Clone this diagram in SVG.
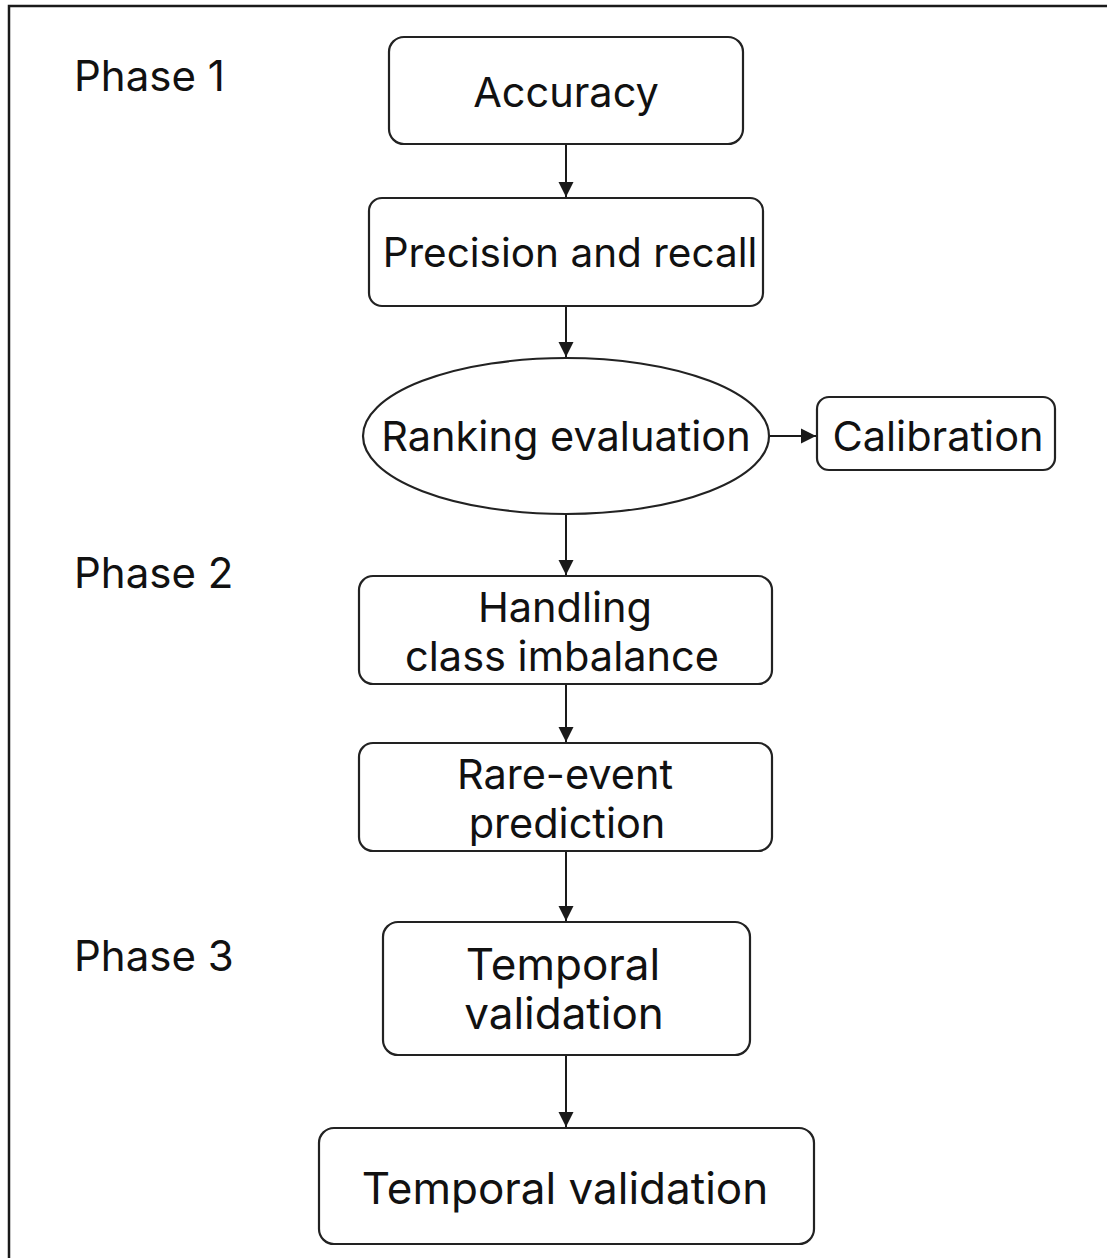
<svg xmlns="http://www.w3.org/2000/svg" width="1107" height="1258" viewBox="0 0 1107 1258">
  <style>
    .box { fill: #ffffff; stroke: #222222; stroke-width: 2.2; }
    .lbl { font-family: Inter, "Liberation Sans", sans-serif; font-size: 41.5px; fill: #111111; text-anchor: middle; dominant-baseline: central; }
    .big { font-size: 44px; }
    .phase { font-family: Inter, "Liberation Sans", sans-serif; font-size: 42px; fill: #111111; dominant-baseline: central; }
    .edge { stroke: #1a1a1a; stroke-width: 2; fill: none; marker-end: url(#arrow); }
  </style>
  <defs>
    <marker id="arrow" viewBox="0 0 10 10" refX="10" refY="5" markerWidth="15" markerHeight="16" markerUnits="userSpaceOnUse" orient="auto">
      <path d="M0,0 L10,5 L0,10 z" fill="#1a1a1a"/>
    </marker>
  </defs>
  <rect width="1107" height="1258" fill="#ffffff"/>
  <!-- frame: top and left edges only -->
  <path d="M9,1258 V6 H1107" fill="none" stroke="#1a1a1a" stroke-width="2.5"/>

  <g id="phase-labels">
    <text class="phase" x="74" y="75">Phase 1</text>
    <text class="phase" x="74" y="572">Phase 2</text>
    <text class="phase" x="74" y="955">Phase 3</text>
  </g>

  <g id="connectors">
    <line class="edge" x1="566" y1="145" x2="566" y2="197"/>
    <line class="edge" x1="566" y1="307" x2="566" y2="357"/>
    <line class="edge" x1="769" y1="436" x2="816" y2="436"/>
    <line class="edge" x1="566" y1="515" x2="566" y2="575"/>
    <line class="edge" x1="566" y1="685" x2="566" y2="742"/>
    <line class="edge" x1="566" y1="852" x2="566" y2="921"/>
    <line class="edge" x1="566" y1="1056" x2="566" y2="1127"/>
  </g>

  <g id="accuracy">
    <rect class="box" x="389" y="37" width="354" height="107" rx="15"/>
    <text class="lbl" x="566" y="92">Accuracy</text>
  </g>
  <g id="precision-recall">
    <rect class="box" x="369" y="198" width="394" height="108" rx="13"/>
    <text class="lbl" x="570" y="252" style="font-size:40.5px">Precision and recall</text>
  </g>
  <g id="ranking-evaluation">
    <ellipse class="box" cx="566" cy="436" rx="203" ry="78"/>
    <text class="lbl" x="566" y="436">Ranking evaluation</text>
  </g>
  <g id="calibration">
    <rect class="box" x="817" y="397" width="238" height="73" rx="12"/>
    <text class="lbl" x="938" y="436">Calibration</text>
  </g>
  <g id="class-imbalance">
    <rect class="box" x="359" y="576" width="413" height="108" rx="14"/>
    <text class="lbl" x="565" y="607">Handling</text>
    <text class="lbl" x="562" y="656">class imbalance</text>
  </g>
  <g id="rare-event">
    <rect class="box" x="359" y="743" width="413" height="108" rx="14"/>
    <text class="lbl" x="565" y="774">Rare-event</text>
    <text class="lbl" x="567" y="823">prediction</text>
  </g>
  <g id="temporal-validation-1">
    <rect class="box" x="383" y="922" width="367" height="133" rx="15"/>
    <text class="lbl big" x="563" y="964">Temporal</text>
    <text class="lbl big" x="564" y="1013">validation</text>
  </g>
  <g id="temporal-validation-2">
    <rect class="box" x="319" y="1128" width="495" height="116" rx="15"/>
    <text class="lbl big" x="565" y="1188">Temporal validation</text>
  </g>
</svg>
